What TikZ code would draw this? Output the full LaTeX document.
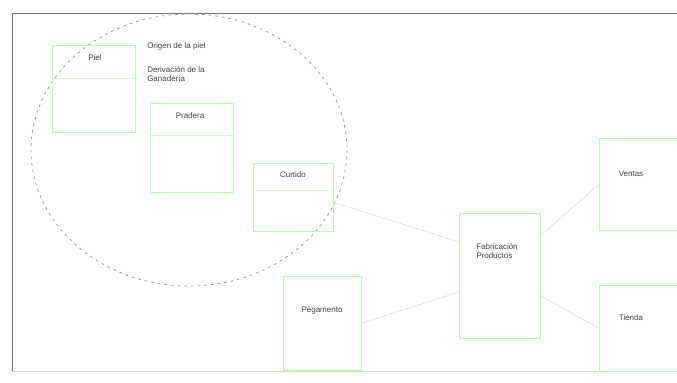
\documentclass[tikz,border=0pt]{standalone}
\usepackage{fontspec}
\setmainfont{Liberation Sans}
\begin{document}
\begin{tikzpicture}[x=0.75pt,y=-0.75pt,
  box/.style={draw=green!30!white,line width=0.4pt},
  hdr/.style={draw=green!18!white,line width=0.4pt},
  lbl/.style={font=\fontsize{6}{7}\selectfont,text=black!75,inner sep=0pt},
  conn/.style={draw=black!12,line width=0.5pt},
  frame/.style={draw=black!55,line width=0.6pt}]
\useasboundingbox (0,0) rectangle (677,382);
\fill[white] (0,0) rectangle (677,382);
% frame
\draw[frame] (677,13) -- (12,13) -- (12,371);
\draw[draw=black!15] (12,371) -- (677,371);
% dashed ellipse
\draw[black!40,dashed,dash pattern=on 2pt off 3pt,line width=0.6pt] (189,150) ellipse [x radius=158,y radius=136];
% boxes
\node[box,minimum width=83*0.75pt,minimum height=87*0.75pt,anchor=north west] (piel) at (52,45) {};
\draw[hdr] (52,78) -- (135,78);
\node[lbl] (tpiel) at (95,58) {Piel};
\node[lbl,anchor=west] (t1) at (147,46) {Origen de la piel};
\node[lbl,anchor=west,align=left] (t2) at (147,74) {Derivación de la\\Ganadería};

\node[box,minimum width=83*0.75pt,minimum height=89*0.75pt,anchor=north west] (prad) at (150,103) {};
\draw[hdr] (150,135) -- (233,135);
\node[lbl] (tprad) at (190,116) {Pradera};

\node[box,minimum width=80*0.75pt,minimum height=68*0.75pt,anchor=north west] (curt) at (253,163) {};
\draw[hdr] (253,190) -- (333,190);
\node[lbl] (tcurt) at (293,175) {Curtido};

\node[box,minimum width=81*0.75pt,minimum height=125*0.75pt,anchor=north west] (fab) at (459,213) {};
\node[lbl,align=left] (tfab) at (497,251) {Fabricación\\Productos};

\node[box,minimum width=78*0.75pt,minimum height=94*0.75pt,anchor=north west] (peg) at (283,276) {};
\node[lbl] (tpeg) at (322,311) {Pegamento};

\node[box,minimum width=80*0.75pt,minimum height=92*0.75pt,anchor=north west] (vent) at (599,138) {};
\node[lbl] (tvent) at (631,174) {Ventas};

\node[box,minimum width=80*0.75pt,minimum height=86*0.75pt,anchor=north west] (tien) at (599,285) {};
\node[lbl] (ttien) at (631,318) {Tienda};

% connectors
\coordinate (fa) at (459,242);
\coordinate (fb) at (459,292);
\draw[conn] (curt.east) ++(0,5) -- (fa);
\draw[conn] (peg.east) -- (fb);
\draw[conn] (fab.east) ++(0,-40) -- (vent.west);
\draw[conn] (fab.east) ++(0,20) -- (tien.west);
\end{tikzpicture}
\end{document}
